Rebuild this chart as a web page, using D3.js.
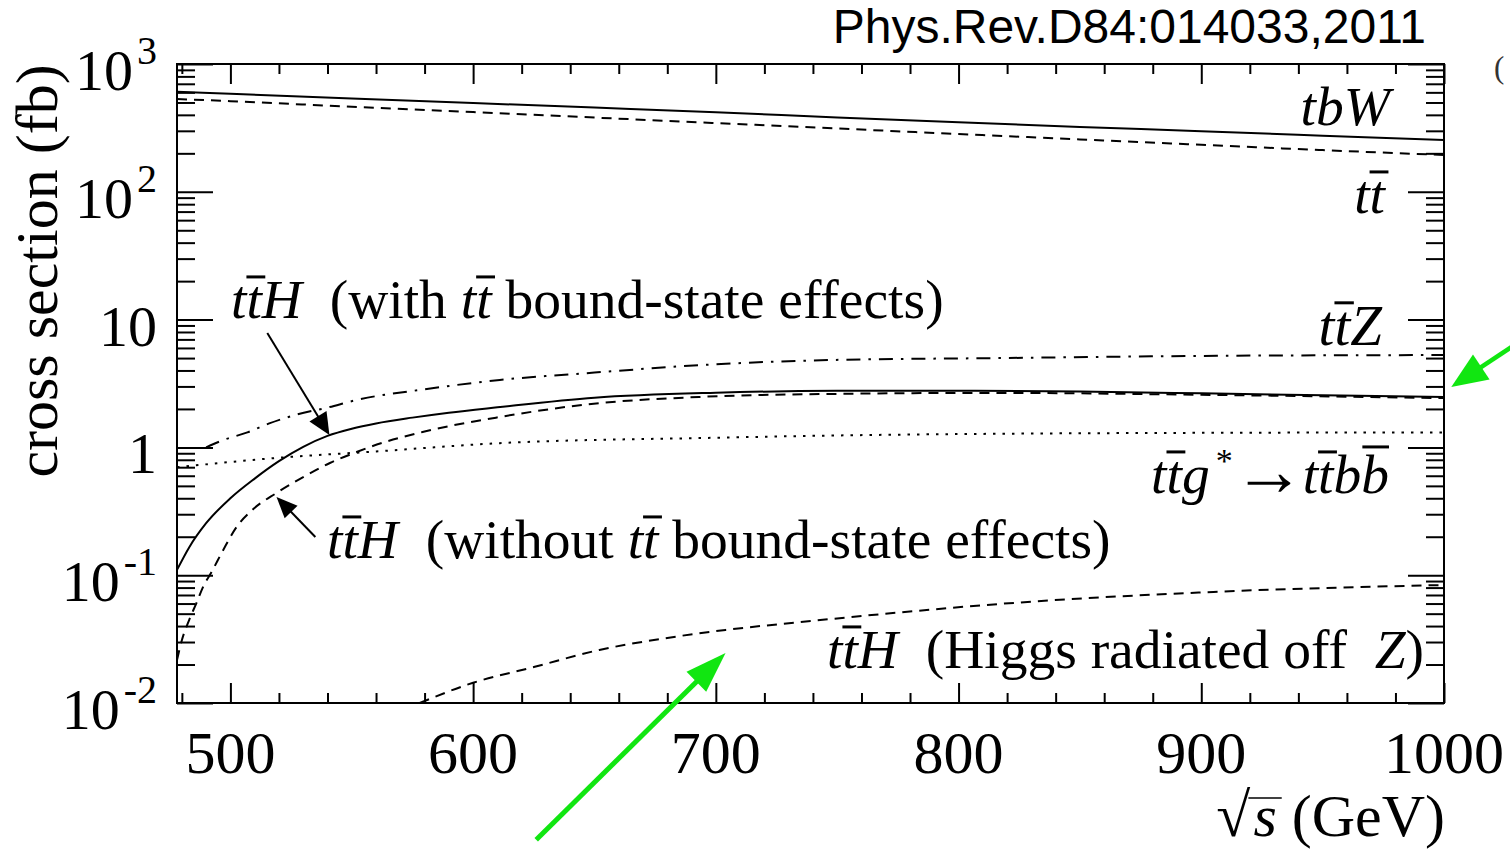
<!DOCTYPE html>
<html><head><meta charset="utf-8">
<script src="https://cdn.jsdelivr.net/npm/d3@7"></script>
<style>
html,body{margin:0;padding:0;background:#fff;}
svg{display:block;}
text{font-family:"Liberation Serif","Times New Roman",serif;fill:#000;}
</style></head><body>
<svg id="c" width="1510" height="851"></svg>
<script>
// ---------------- data ----------------
const energy_tbW = [478,500,550,600,650,700,750,800,850,900,950,1000];
const xsec_tbW   = [607,585,538,495,456,420,382,350,322,298,275,254];

const energy_tt  = [478,500,550,600,650,700,750,800,850,900,950,1000];
const xsec_tt    = [532,512,463,421,381,345,313,283,257,233,212,194];

const energy_ttH_bound = [478,483,490,500,510,520,530,540,550,560,575,590,610,650,700,750,800,850,900,950,1000];
const xsec_ttH_bound   = [0.11,0.165,0.255,0.40,0.57,0.78,1.01,1.23,1.40,1.54,1.71,1.87,2.06,2.45,2.68,2.77,2.78,2.74,2.65,2.56,2.48];

const energy_ttH_nobound = [478,480,483,486,489,492,497,502.5,509,519,530,541,552,557,580,611,652,693,748,817,900,1000];
const xsec_ttH_nobound   = [0.0217,0.031,0.0446,0.0605,0.083,0.104,0.157,0.238,0.324,0.44,0.586,0.755,0.92,1.0,1.33,1.73,2.22,2.48,2.62,2.67,2.58,2.43];

const energy_ttZ = [490,497,507,516,527,540,552,580,611,650,693,748,817,900,1000];
const xsec_ttZ   = [1.0,1.14,1.31,1.54,1.8,2.05,2.35,2.85,3.37,3.85,4.4,4.83,5.0,5.2,5.28];

const energy_ttbb = [478,520,560,611,700,750,820,900,1000];
const xsec_ttbb   = [0.70,0.83,0.93,1.08,1.19,1.24,1.28,1.30,1.31];

const energy_ttH_Z = [578,600,625,652,680,704,735,775,817,905,1000];
const xsec_ttH_Z   = [0.0100,0.0144,0.0191,0.026,0.0323,0.0373,0.043,0.051,0.0596,0.074,0.0838];

const xTickValues = [500,600,700,800,900,1000];
const xTickLabels = ["500","600","700","800","900","1000"];
const yTickValues = [0.01,0.1,1,10,100,1000];
const yTickBase   = ["10","10","1","10","10","10"];
const yTickExp    = ["-2","-1","","","2","3"];

// ---------------- layout ----------------
const svg = d3.select("#c");
const L=177, R=1444, T=64, B=703;
const x = d3.scaleLinear().domain([478,1000]).range([L,R]);
const y = d3.scaleLog().domain([0.01,1000]).range([B,T]);

svg.append("defs").append("clipPath").attr("id","clip")
  .append("rect").attr("x",L).attr("y",T).attr("width",R-L).attr("height",B-T);

// ---------------- curves ----------------
const line = d3.line().x(d=>x(d[0])).y(d=>y(d[1])).curve(d3.curveMonotoneX);
const series = [
  {e:energy_tbW, v:xsec_tbW, dash:null},
  {e:energy_tt, v:xsec_tt, dash:"10,7"},
  {e:energy_ttH_bound, v:xsec_ttH_bound, dash:null},
  {e:energy_ttH_nobound, v:xsec_ttH_nobound, dash:"10,7"},
  {e:energy_ttZ, v:xsec_ttZ, dash:"14,8,2.5,8"},
  {e:energy_ttbb, v:xsec_ttbb, dash:"2.5,7"},
  {e:energy_ttH_Z, v:xsec_ttH_Z, dash:"10,7"}
];
const cg = svg.append("g").attr("clip-path","url(#clip)");
series.forEach(s=>{
  cg.append("path").datum(s.e.map((e,i)=>[e,s.v[i]]))
    .attr("d",line).attr("fill","none").attr("stroke","#000").attr("stroke-width",2)
    .attr("stroke-dasharray",s.dash);
});

// ---------------- axes / frame ----------------
const xMinor = d3.range(480,1000,20).filter(v=>v%100!==0);
const yMinor = [];
[0.01,0.1,1,10,100].forEach(d=>{ for(let m=2;m<=9;m++) yMinor.push(d*m); });

function ax(gen, tr, vals, size){
  const g = svg.append("g").attr("transform",tr)
    .call(gen.tickValues(vals).tickSizeInner(size).tickSizeOuter(0).tickFormat(""));
  g.select(".domain").remove();
  g.selectAll("line").attr("stroke","#000").attr("stroke-width",2);
}
ax(d3.axisBottom(x), `translate(0,${B})`, xTickValues, -20);
ax(d3.axisBottom(x), `translate(0,${B})`, xMinor, -10);
ax(d3.axisTop(x), `translate(0,${T})`, xTickValues, -20);
ax(d3.axisTop(x), `translate(0,${T})`, xMinor, -10);
ax(d3.axisLeft(y), `translate(${L},0)`, yTickValues, -36);
ax(d3.axisLeft(y), `translate(${L},0)`, yMinor, -18);
ax(d3.axisRight(y), `translate(${R},0)`, yTickValues, -36);
ax(d3.axisRight(y), `translate(${R},0)`, yMinor, -18);

svg.append("rect").attr("x",L).attr("y",T).attr("width",R-L).attr("height",B-T)
  .attr("fill","none").attr("stroke","#000").attr("stroke-width",2);

// tick labels
svg.append("g").selectAll("text").data(xTickValues).join("text")
  .attr("x",d=>x(d)).attr("y",B+70).attr("text-anchor","middle").attr("font-size",60)
  .text((d,i)=>xTickLabels[i]);

yTickValues.forEach((v,i)=>{
  const t = svg.append("text").attr("x",157).attr("y",y(v)+26).attr("text-anchor","end").attr("font-size",58);
  t.append("tspan").text(yTickBase[i]);
  if(yTickExp[i]) t.append("tspan").attr("font-size",40).attr("dy",-26).attr("dx",4).text(yTickExp[i]);
});

// axis titles
svg.append("text").attr("transform","translate(57,271) rotate(-90)").attr("text-anchor","middle")
  .attr("font-size",60).text("cross section (fb)");

svg.append("text").attr("x",1426).attr("y",43).attr("text-anchor","end")
  .style("font-family","'Liberation Sans',Arial,sans-serif").attr("font-size",48)
  .text("Phys.Rev.D84:014033,2011");

svg.append("text").attr("x",1494).attr("y",78).attr("font-size",31).style("fill","#333").text("(");

// ---------------- rich labels ----------------
function rich(x0, y0, anchor, fs, segs){
  const t = svg.append("text").attr("x",x0).attr("y",y0).attr("text-anchor",anchor)
    .attr("font-size",fs).style("white-space","pre");
  const bars=[]; let idx=0;
  segs.forEach(s=>{
    const ts = t.append("tspan").text(s.t);
    if(s.it) ts.attr("font-style","italic");
    if(s.fs) ts.attr("font-size",s.fs);
    if(s.dy) ts.attr("dy",s.dy);
    if(s.dx) ts.attr("dx",s.dx);
    if(s.bar) bars.push({i:idx, kind:s.bar});
    idx += s.t.length;
  });
  const node = t.node();
  bars.forEach(b=>{
    const e = node.getExtentOfChar(b.i);
    const p = b.kind==='b' ? [0.02,0.5,0.83] : [0.0,0.34,0.74];
    svg.append("line").attr("x1",e.x+p[0]*fs).attr("x2",e.x+p[1]*fs)
      .attr("y1",y0-p[2]*fs).attr("y2",y0-p[2]*fs).attr("stroke","#000").attr("stroke-width",3);
  });
  return t;
}
const FS=55.5;
rich(1390,125,"end",FS,[{t:"tbW",it:1}]);
rich(1385,213,"end",FS,[{t:"t",it:1},{t:"t",it:1,bar:"t"}]);
rich(1382,345,"end",57,[{t:"t",it:1},{t:"t",it:1,bar:"t"},{t:"Z",it:1}]);
rich(1389,493,"end",FS,[{t:"t",it:1},{t:"t",it:1,bar:"t"},{t:"g",it:1},
  {t:"*",fs:34,dy:-21,dx:6},{t:"→",fs:72,dy:23,dx:0},
  {t:"t",it:1,dy:-2,dx:-2},{t:"t",it:1,bar:"t"},{t:"b",it:1},{t:"b",it:1,bar:"b"}]);
rich(231,318,"start",FS,[{t:"t",it:1},{t:"t",it:1,bar:"t"},{t:"H",it:1},{t:"  (with "},
  {t:"t",it:1},{t:"t",it:1,bar:"t"},{t:" bound-state effects)"}]);
rich(327,558,"start",FS,[{t:"t",it:1},{t:"t",it:1,bar:"t"},{t:"H",it:1},{t:"  (without "},
  {t:"t",it:1},{t:"t",it:1,bar:"t"},{t:" bound-state effects)"}]);
rich(827,668,"start",FS,[{t:"t",it:1},{t:"t",it:1,bar:"t"},{t:"H",it:1},{t:"  (Higgs radiated off  "},
  {t:"Z",it:1},{t:")"}]);

// x axis title: radical sign, then "s (GeV)"
const xTitle = svg.append("text").attr("x",1445).attr("y",836).attr("text-anchor","end")
  .attr("font-size",60).style("white-space","pre");
xTitle.append("tspan").attr("font-style","italic").text("s");
xTitle.append("tspan").text(" (GeV)");
{
  const es = xTitle.node().getExtentOfChar(0);
  svg.append("text").attr("x",es.x-3).attr("y",836).attr("text-anchor","end")
    .attr("font-size",62).text("√");
  svg.append("line").attr("x1",es.x-5).attr("x2",es.x+es.width+5)
    .attr("y1",798).attr("y2",798).attr("stroke","#000").attr("stroke-width",1.5);
}

// ---------------- arrows ----------------
const arrows = [
  {from:[515.2,7.85], to:[540.8,1.25], color:"#000", w:2, hl:22, hw:10},
  {from:[535,0.199], to:[519,0.41], color:"#000", w:2, hl:21, hw:9},
  {from:[626,0.00085], to:[704,0.0246], color:"#11e611", w:5, hl:41, hw:14},
  {from:[1034,7.3], to:[1003,2.97], color:"#11e611", w:4.5, hl:36, hw:15}
];
arrows.forEach(a=>{
  const x1=x(a.from[0]), y1=y(a.from[1]), x2=x(a.to[0]), y2=y(a.to[1]);
  const dx=x2-x1, dy=y2-y1, len=Math.hypot(dx,dy), ux=dx/len, uy=dy/len;
  const bx=x2-ux*a.hl, by=y2-uy*a.hl;
  svg.append("line").attr("x1",x1).attr("y1",y1).attr("x2",bx+ux*2).attr("y2",by+uy*2)
    .attr("stroke",a.color).attr("stroke-width",a.w);
  svg.append("polygon").attr("points",
    [[x2,y2],[bx-uy*a.hw,by+ux*a.hw],[bx+uy*a.hw,by-ux*a.hw]].map(p=>p.join(",")).join(" "))
    .attr("fill",a.color);
});
</script>
</body></html>
